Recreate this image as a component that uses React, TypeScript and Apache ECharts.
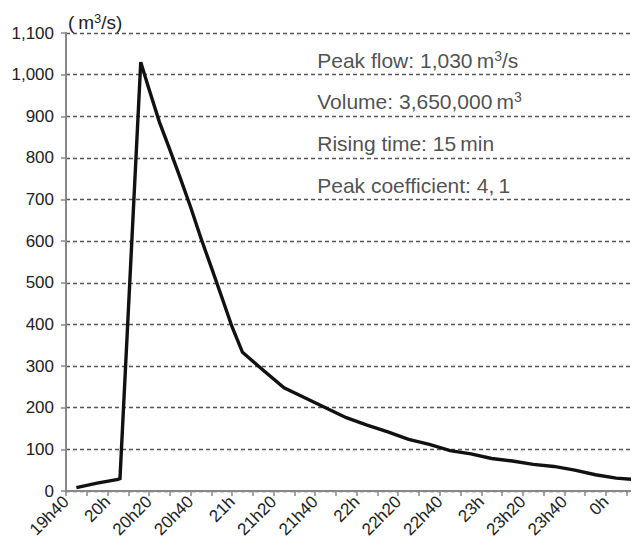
import React, { useEffect, useRef } from "react";
import * as echarts from "echarts";

// minutes after 19h40
const times: number[] = [5, 15, 25, 26, 36, 40, 45, 50, 55, 60, 65, 70, 75, 80, 85, 95, 105, 115, 125, 135, 145, 155, 165, 175, 185, 195, 205, 215, 225, 235, 245, 255, 265, 275];
const flows: number[] = [8, 19, 28, 30, 1030, 965, 886, 820, 752, 682, 607, 537, 466, 394, 333, 290, 248, 224, 200, 176, 158, 142, 124, 112, 97, 89, 78, 72, 64, 59, 50, 39, 31, 27];

const startMinutes = 19 * 60 + 40;
const xMax = 275;
const yTicks = { min: 0, max: 1100, interval: 100 };

const annotations: string[] = [
  "{n|Peak flow: 1,030\u2009m}{sup|3}{n|/s}",
  "{n|Volume: 3,650,000\u2009m}{sup|3}",
  "{n|Rising time: 15\u2009min}",
  "{n|Peak coefficient: 4,\u20091}",
];
const annotationValues: number[] = [1000, 900, 800, 700];

const FONT = "'Liberation Sans', Arial, Helvetica, sans-serif";
const TXT = "#222";

function fmtTime(v: number): string {
  const t = startMinutes + v;
  const h = Math.floor(t / 60) % 24;
  const m = t % 60;
  return m === 0 ? `${h}h` : `${h}h${m}`;
}

export default function App() {
  const ref = useRef<HTMLDivElement>(null);
  useEffect(() => {
    if (!ref.current) return;
    const chart = echarts.init(ref.current, undefined, { renderer: "svg" });
    const richAnn = {
      n: { fontSize: 21, fontFamily: FONT, color: TXT, lineHeight: 23 },
      sup: { fontSize: 14, fontFamily: FONT, color: TXT, verticalAlign: "top", lineHeight: 23 },
    };
    const richName = {
      n: { fontSize: 19, fontFamily: FONT, color: TXT, lineHeight: 21 },
      sup: { fontSize: 13, fontFamily: FONT, color: TXT, verticalAlign: "top", lineHeight: 21 },
    };
    const data = times.map((t, i) => [t, flows[i]]);
    chart.setOption({
      animation: false,
      backgroundColor: "#ffffff",
      grid: { left: 66, right: 2, top: 33, bottom: 54, containLabel: false },
      xAxis: {
        type: "value",
        min: 0,
        max: xMax,
        interval: 10,
        axisLine: { show: true, lineStyle: { color: "#888", width: 2 } },
        axisTick: { show: true, length: 5, lineStyle: { color: "#888", width: 1.5 } },
        splitLine: { show: false },
        axisLabel: {
          rotate: 45,
          margin: 8,
          fontSize: 17,
          fontFamily: FONT,
          color: TXT,
          showMaxLabel: false,
          formatter: (v: number) => (v % 20 === 0 && v <= 260 ? fmtTime(v) : ""),
        },
      },
      yAxis: {
        type: "value",
        min: yTicks.min,
        max: yTicks.max,
        interval: yTicks.interval,
        name: "{n|(\u2009m}{sup|3}{n|/s)}",
        nameLocation: "end",
        nameGap: 0,
        nameTextStyle: { align: "left", verticalAlign: "bottom", rich: richName, padding: [0, 0, 0, 2] },
        axisLine: { show: true, lineStyle: { color: "#888", width: 2 } },
        axisTick: { show: true, length: 5, lineStyle: { color: "#888", width: 1.5 } },
        axisLabel: {
          margin: 12,
          fontSize: 17,
          fontFamily: FONT,
          color: TXT,
          formatter: (v: number) => v.toLocaleString("en-US"),
        },
        splitLine: { show: true, lineStyle: { color: "#555", width: 1.3, type: [4, 3] } },
      },
      series: [
        {
          type: "line",
          data,
          symbol: "none",
          lineStyle: { color: "#111", width: 3.4, join: "miter" },
          z: 5,
        },
        {
          type: "scatter",
          data: annotationValues.map((v) => [121, v]),
          symbolSize: 0,
          silent: true,
          label: {
            show: true,
            position: "top",
            distance: 3,
            formatter: (p: any) => annotations[p.dataIndex],
            rich: richAnn,
            align: "left",
          },
        },
      ],
    });
    const onResize = () => chart.resize();
    window.addEventListener("resize", onResize);
    return () => {
      window.removeEventListener("resize", onResize);
      chart.dispose();
    };
  }, []);
  return <div ref={ref} style={{ width: 639, height: 545, margin: -8 }} />;
}
